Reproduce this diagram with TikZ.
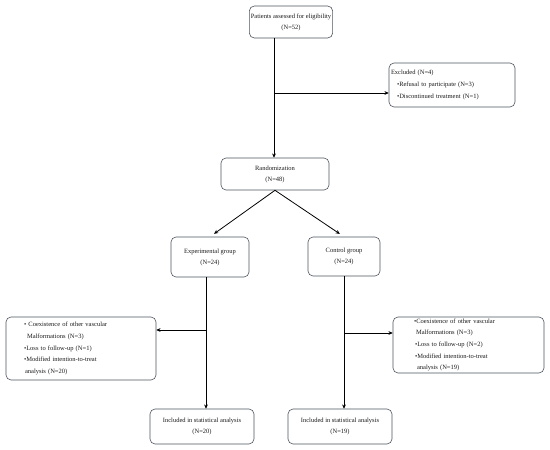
\documentclass[tikz,border=0pt]{standalone}
\usepackage{fontspec}
\setmainfont{Liberation Serif}
\usetikzlibrary{arrows.meta,calc,positioning}
\definecolor{cfInk}{HTML}{1C1C1C}
\definecolor{cfFrame}{HTML}{4F5560}
\tikzset{
  cf canvas/.style={fill=white},
  cf box/.style={
    draw=cfFrame,
    line width=.6pt,
    rounded corners=5pt,
    fill=white,
    align=center,
    inner sep=1.5pt,
    text=cfInk,
    font=\fontsize{6.5}{11}\selectfont
  },
  cf list/.style={cf box, align=left, font=\fontsize{6.5}{11.7}\selectfont},
  cf line/.style={draw=black, line width=.8pt},
  cf flow/.style={
    draw=black,
    line width=.8pt,
    -{Stealth[length=4.2pt,width=3.8pt]}
  }
}
\newcommand{\cfdot}{\textbullet}

\begin{document}
\begin{tikzpicture}[x=1pt,y=-1pt]
  \path[cf canvas] (0,0) rectangle (550,450);
  \useasboundingbox (0,0) rectangle (550,450);

  % enrolment
  \node[cf box, minimum width=82pt, minimum height=32pt] (patients) at (291,22)
    {Patients assessed for eligibility\\(N=52)};
  \node[cf list, inner xsep=2pt, text width=122pt, minimum height=44pt,
        font=\fontsize{6.5}{12}\selectfont] (excluded) at (452,85)
    {Excluded (N=4)\\
     \hspace*{6pt}\cfdot Refusal to participate (N=3)\\
     \hspace*{6pt}\cfdot Discontinued treatment (N=1)};
  \node[cf box, minimum width=108pt, minimum height=32pt] (rand) at (275,174)
    {Randomization\\(N=48)};

  % allocation
  \node[cf box, minimum width=78pt, minimum height=40pt] (expgroup) at (210,257)
    {Experimental group\\(N=24)};
  \node[cf box, minimum width=72pt, minimum height=39pt] (ctrlgroup) at (344,256.5)
    {Control group\\(N=24)};

  % follow-up
  \node[cf list, inner xsep=18pt, text width=114pt, minimum height=63pt] (expout) at (81,348.5)
    {\cfdot\ Coexistence of other vascular\\
     \hspace*{3pt}Malformations (N=3)\\
     \cfdot Loss to follow-up (N=1)\\
     \cfdot Modified intention-to-treat\\
     \hspace*{1pt}analysis (N=20)};
  \node[cf list, inner xsep=21pt, text width=109pt, minimum height=56pt] (ctrlout) at (468.5,345)
    {\cfdot Coexistence of other vascular\\
     \hspace*{2pt}Malformations (N=3)\\
     \hspace*{1pt}\cfdot Loss to follow-up (N=2)\\
     \hspace*{1pt}\cfdot Modified intention-to-treat\\
     \hspace*{3pt}analysis (N=19)};

  % analysis
  \node[cf box, minimum width=104pt, minimum height=35pt] (expan) at (202,426.5)
    {Included in statistical analysis\\(N=20)};
  \node[cf box, minimum width=104pt, minimum height=35pt] (ctrlan) at (340,426.5)
    {Included in statistical analysis\\(N=19)};

  \coordinate (exJoin) at (274,93);
  \coordinate (expFork) at (206,330);
  \coordinate (ctrlFork) at (344,333);

  \draw[cf flow] (patients.south -| exJoin) -- (exJoin |- rand.north);
  \draw[cf flow] (exJoin) -- (exJoin -| excluded.west);

  \draw[cf flow, shorten >=5pt] (rand.south) -- (expgroup.north);
  \draw[cf flow, shorten >=5pt] (rand.south) -- (ctrlgroup.north);

  \draw[cf line] (expgroup.south -| expFork) -- (expFork);
  \draw[cf flow] (expFork) -- (expFork -| expout.east);
  \draw[cf flow] (expFork) -- (expFork |- expan.north);

  \draw[cf line] (ctrlgroup.south -| ctrlFork) -- (ctrlFork);
  \draw[cf flow] (ctrlFork) -- (ctrlFork -| ctrlout.west);
  \draw[cf flow] (ctrlFork) -- (ctrlFork |- ctrlan.north);
\end{tikzpicture}
\end{document}
